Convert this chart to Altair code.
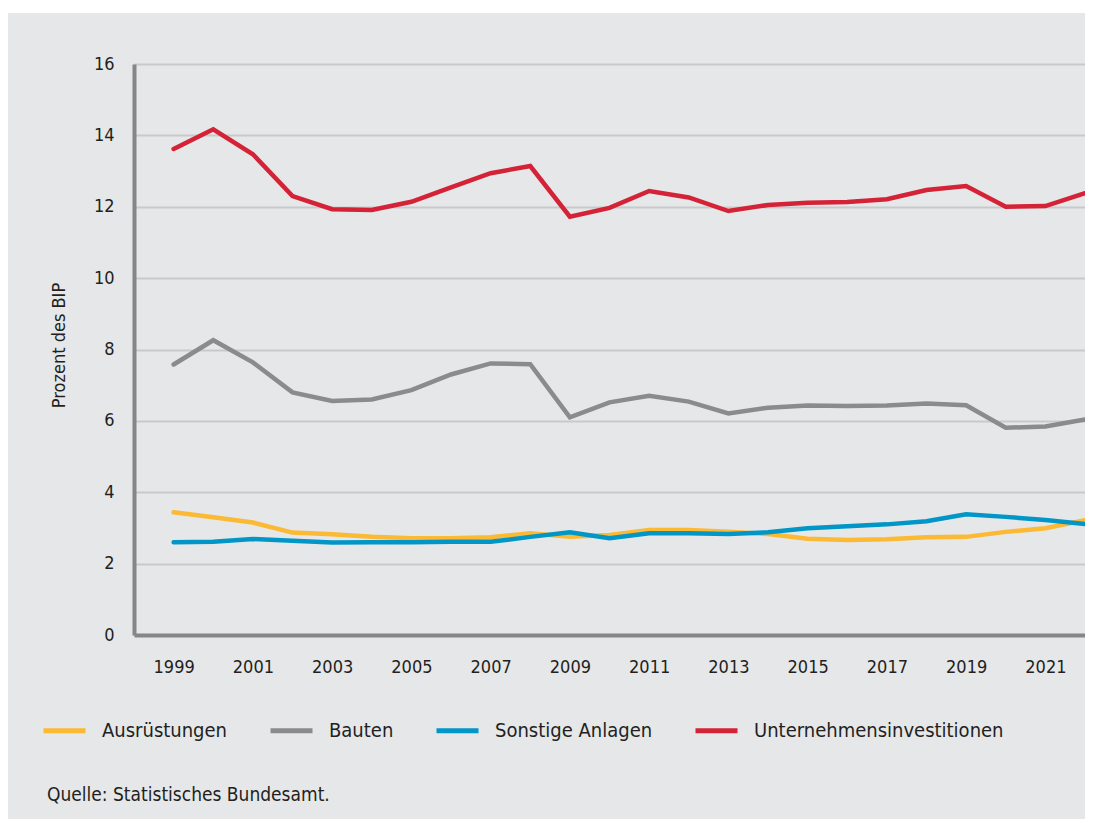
import altair as alt
import pandas as pd

years = list(range(1999, 2023))
ausruestungen = [3.44, 3.30, 3.15, 2.87, 2.82, 2.75, 2.71, 2.71, 2.74, 2.85, 2.75, 2.80,
                 2.94, 2.94, 2.89, 2.83, 2.70, 2.66, 2.68, 2.74, 2.75, 2.89, 2.99, 3.22]
bauten = [7.58, 8.26, 7.64, 6.80, 6.56, 6.60, 6.86, 7.30, 7.61, 7.59, 6.10, 6.52,
          6.70, 6.54, 6.21, 6.37, 6.43, 6.42, 6.43, 6.49, 6.44, 5.81, 5.84, 6.04]
sonstige = [2.60, 2.61, 2.69, 2.64, 2.59, 2.60, 2.60, 2.61, 2.61, 2.75, 2.88, 2.71,
            2.85, 2.85, 2.83, 2.88, 2.99, 3.05, 3.10, 3.19, 3.38, 3.31, 3.22, 3.11]
unternehmen = [13.62, 14.17, 13.47, 12.30, 11.93, 11.91, 12.14, 12.54, 12.94, 13.14, 11.72, 11.97,
               12.44, 12.26, 11.88, 12.05, 12.11, 12.13, 12.21, 12.47, 12.58, 12.00, 12.02, 12.38]

series_names = ["Ausrüstungen", "Bauten", "Sonstige Anlagen", "Unternehmensinvestitionen"]
series_colors = ["#fbb934", "#8a8b8d", "#0096c8", "#d42236"]
x_ticks = list(range(1999, 2022, 2))
y_ticks = [0, 2, 4, 6, 8, 10, 12, 14, 16]
source_text = "Quelle: Statistisches Bundesamt."

rows = []
for name, vals in zip(series_names, [ausruestungen, bauten, sonstige, unternehmen]):
    for y, v in zip(years, vals):
        rows.append({"Jahr": y, "Wert": v, "Serie": name})
df = pd.DataFrame(rows)

FONT = "Liberation Sans Narrow, DejaVu Sans Condensed, sans-serif"
TXT = "#231f20"
PANEL = "#e6e7e9"

# white strip above the grey panel (page frame)
top_strip = alt.Chart(pd.DataFrame({"a": [0]})).mark_rect(color="white").encode(
    x=alt.value(-126), x2=alt.value(960), y=alt.value(-56), y2=alt.value(-51)
)

lines = alt.Chart(df).mark_line(strokeWidth=4.5, strokeCap="round", strokeJoin="miter").encode(
    x=alt.X("Jahr:Q",
            scale=alt.Scale(domain=[1998, 2022], nice=False, zero=False),
            axis=alt.Axis(values=x_ticks, format="d", title=None, grid=False, ticks=False,
                          labelPadding=23, labelFontSize=18, labelFont=FONT, labelColor=TXT,
                          domainColor="#858688", domainWidth=4)),
    y=alt.Y("Wert:Q",
            scale=alt.Scale(domain=[0, 16], nice=False),
            axis=alt.Axis(values=y_ticks, title="Prozent des BIP", ticks=False,
                          labelPadding=20, labelFontSize=18, labelFont=FONT, labelColor=TXT,
                          gridColor="#c8c9cb", gridWidth=2,
                          domainColor="#858688", domainWidth=4,
                          titleFont=FONT, titleFontSize=18, titleFontWeight="normal",
                          titleColor=TXT, titleAngle=-90, titleX=-75, titleY=281,
                          titleAlign="center", titleBaseline="middle")),
    color=alt.Color("Serie:N",
                    scale=alt.Scale(domain=series_names, range=series_colors),
                    legend=alt.Legend(title=None, orient="none", direction="horizontal",
                                      legendX=-93, legendY=643,
                                      symbolType="stroke", symbolSize=1764, symbolStrokeWidth=5,
                                      labelOffset=14, columnPadding=32, labelLimit=400,
                                      labelFont=FONT, labelFontSize=20, labelColor=TXT)),
    order=alt.Order("Jahr:Q"),
)

source = alt.Chart(pd.DataFrame({"t": [source_text]})).mark_text(
    align="left", baseline="middle", font=FONT, fontSize=19, color=TXT
).encode(x=alt.value(-87), y=alt.value(731), text="t:N")

chart = alt.layer(top_strip, lines, source).properties(
    width=951, height=571,
    autosize=alt.AutoSizeParams(type="none"),
    padding={"left": 126, "top": 56, "right": 0, "bottom": 184},
    background=PANEL,
).configure_view(stroke=None)

chart.save("out.html", embed_options={"renderer": "svg", "actions": False})
